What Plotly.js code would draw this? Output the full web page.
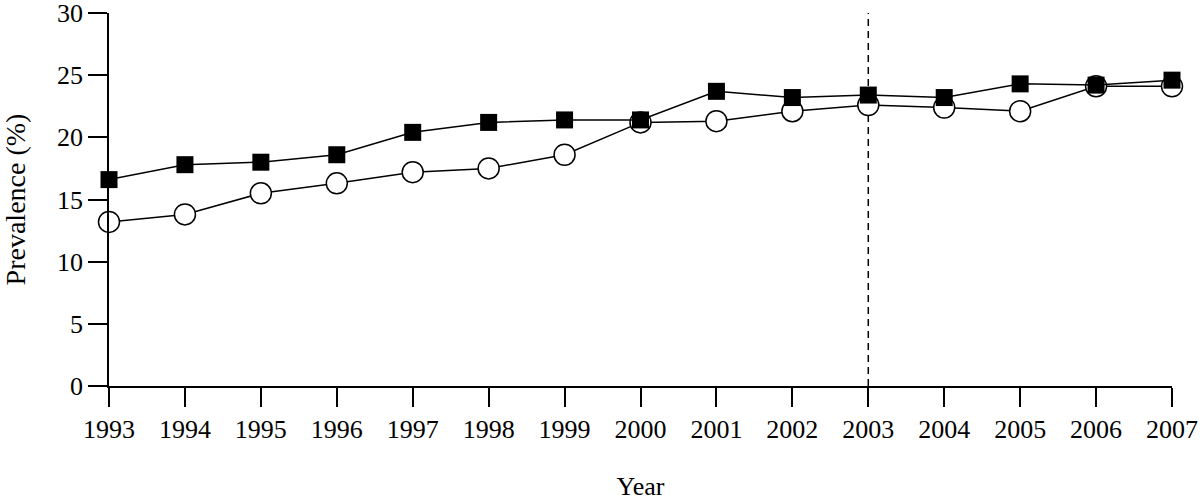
<!DOCTYPE html>
<html>
<head>
<meta charset="utf-8">
<script src="https://cdn.plot.ly/plotly-3.0.1.min.js"></script>
<style>
  html, body { margin: 0; padding: 0; background: #fff; }
  #myChart { width: 1200px; height: 502px; }
</style>
</head>
<body>
<div id="myChart"></div>
<script>
// years on the x axis
var years = [1993, 1994, 1995, 1996, 1997, 1998, 1999, 2000, 2001, 2002, 2003, 2004, 2005, 2006, 2007];
// filled squares series (%)
var squareVals = [16.6, 17.8, 18.0, 18.6, 20.4, 21.2, 21.4, 21.4, 23.7, 23.2, 23.4, 23.2, 24.3, 24.2, 24.6];
// open circles series (%)
var circleVals = [13.2, 13.8, 15.5, 16.3, 17.2, 17.5, 18.6, 21.2, 21.3, 22.1, 22.6, 22.4, 22.1, 24.1, 24.1];
// where the dashed line sits
var markYear = 2003;
var yTicks = [0, 5, 10, 15, 20, 25, 30];

var serif = "Liberation Serif, Times New Roman, serif";

var data = [
  {
    type: "scatter",
    mode: "lines+markers",
    x: years,
    y: circleVals,
    cliponaxis: false,
    line: { color: "black", width: 1.5 },
    marker: { symbol: "circle", size: 21, color: "white", line: { color: "black", width: 1.5 } },
  },
  {
    type: "scatter",
    mode: "lines+markers",
    x: years,
    y: squareVals,
    cliponaxis: false,
    line: { color: "black", width: 1.5 },
    marker: { symbol: "square", size: 17, color: "black", line: { width: 0 } },
  },
];

var layout = {
  width: 1200,
  height: 502,
  showlegend: false,
  paper_bgcolor: "white",
  plot_bgcolor: "white",
  margin: { l: 109, r: 28, t: 13, b: 116 },
  font: { family: serif, size: 26, color: "black" },
  xaxis: {
    range: [1993, 2007],
    tickvals: years,
    ticktext: years.map(String),
    ticks: "outside",
    ticklen: 19,
    tickwidth: 1.5,
    tickcolor: "black",
    showline: true,
    linecolor: "black",
    linewidth: 1.5,
    showgrid: false,
    zeroline: false,
    ticklabeloverflow: "allow",
    tickfont: { family: serif, size: 26 },
    title: { text: "Year", font: { family: serif, size: 26 }, standoff: 34 },
  },
  yaxis: {
    range: [0, 30],
    tickvals: yTicks,
    ticks: "outside",
    ticklen: 19,
    tickwidth: 1.5,
    tickcolor: "black",
    showline: true,
    linecolor: "black",
    linewidth: 1.5,
    showgrid: false,
    zeroline: false,
    ticklabeloverflow: "allow",
    tickfont: { family: serif, size: 26 },
    title: { text: "Prevalence (%)", font: { family: serif, size: 28 }, standoff: 24 },
  },
  shapes: [
    {
      type: "line",
      xref: "x",
      yref: "y",
      x0: markYear,
      x1: markYear,
      y0: 0,
      y1: 30,
      layer: "below",
      line: { color: "black", width: 1.5, dash: "7px,5px" },
    },
  ],
};

const config = { displayModeBar: false, responsive: false };
Plotly.newPlot("myChart", data, layout, config);
</script>
</body>
</html>
